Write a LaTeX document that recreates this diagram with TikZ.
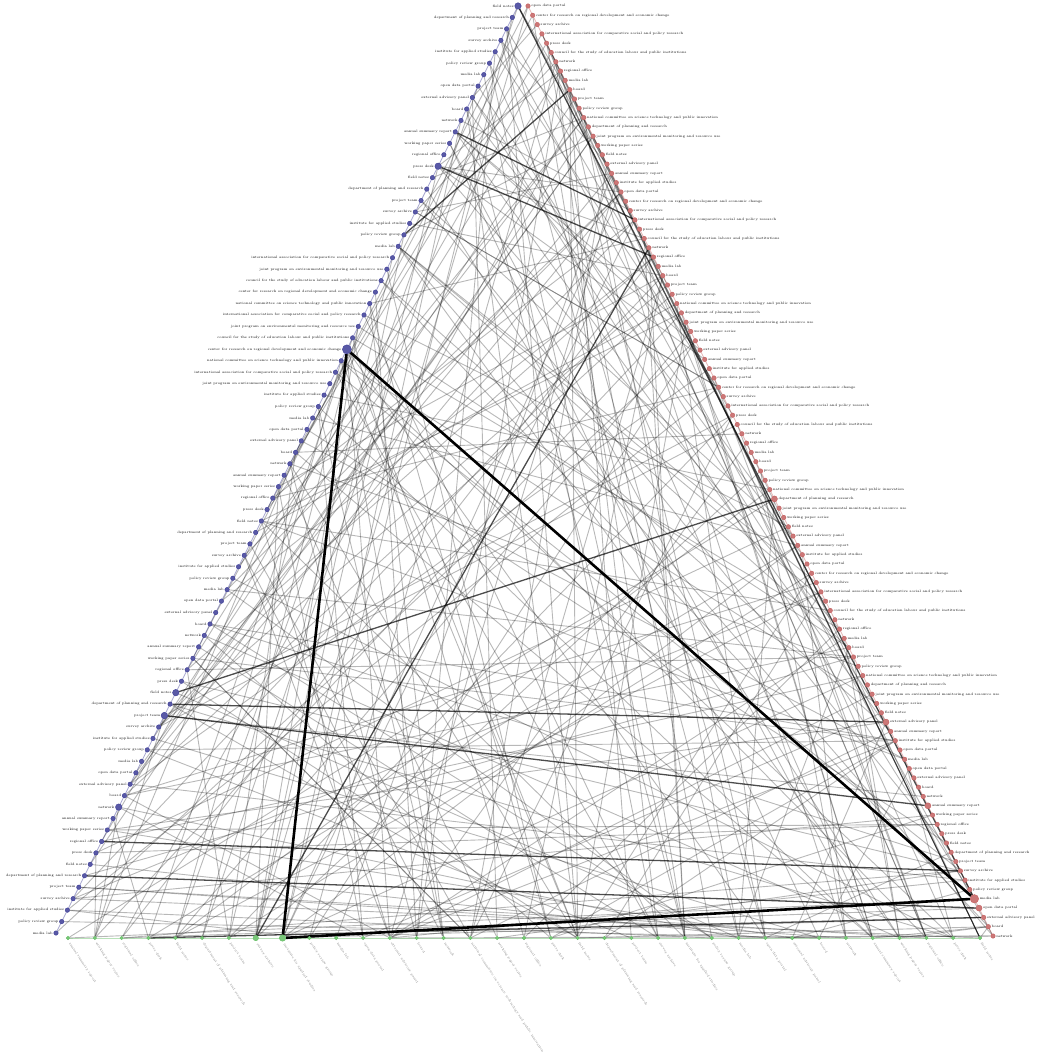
\documentclass[tikz,border=0pt]{standalone}
\usetikzlibrary{backgrounds}

\newcommand*{\nblue}{81}
\newcommand*{\nred}{100}
\newcommand*{\ngreen}{34}

\newcommand*{\poolname}[1]{\ifcase#1 field notes\or regional office\or annual summary report\or board\or open data portal\or policy review group\or survey archive\or department of planning and research\or press desk\or working paper series\or network\or external advisory panel\or media lab\or institute for applied studies\or project team\or center for research on regional development and economic change\or national committee on science technology and public innovation\or international association for comparative social and policy research\or joint program on environmental monitoring and resource use\or council for the study of education labour and public institutions\fi}

\definecolor{bluedot}{RGB}{60,60,150}
\definecolor{reddot}{RGB}{195,95,95}
\definecolor{greendot}{RGB}{100,190,100}

\begin{document}
\begin{tikzpicture}
[
	x=1pt, y=-1pt,
	bluept/.style={circle,draw=bluedot,fill=bluedot!85,inner sep=0pt},
	redpt/.style={circle,draw=reddot,fill=reddot!85,inner sep=0pt},
	greenpt/.style={circle,draw=greendot,fill=greendot!85,inner sep=0pt},
	lbl/.style={font=\fontsize{3.4}{3.8}\selectfont,inner sep=0.7pt,text=black},
	axisline/.style={line width=0.8pt,opacity=0.45},
	edge/.style={black,opacity=0.28,line width=0.9pt},
	darkedge/.style={black,opacity=0.7,line width=1.3pt},
	hubedge/.style={black,line width=2.6pt}
]

	\useasboundingbox (0,0) rectangle (1052,1056);

	% left axis
	\foreach \i in {0,...,\nblue} {
		\pgfmathtruncatemacro{\idx}{(\i>21 && \i<34) ? 15+mod(\i,5) : mod(\i*7,15)}
		\pgfmathsetmacro{\sz}{(\i==30) ? 9 : ((\i==0 || \i==14 || \i==60 || \i==62 || \i==70) ? 6.5 : 4.5)}
		\node[bluept,minimum size=\sz pt] (b\i) at ({518-462*(\i/\nblue)},{6+927*(\i/\nblue)}) {};
		\node[lbl,anchor=east] (bl\i) at (b\i.west) {\poolname{\idx}};
	}

	% right axis
	\foreach \j in {0,...,\nred} {
		\pgfmathtruncatemacro{\idx}{(\j>80) ? mod(\j*7,15) : mod(\j*11+4,20)}
		\pgfmathsetmacro{\sz}{(\j==96) ? 8.5 : ((\j==53 || \j==77 || \j==86 || \j==97) ? 6 : 4.5)}
		\node[redpt,minimum size=\sz pt] (r\j) at ({528+465*(\j/\nred)},{6+930*(\j/\nred)}) {};
		\node[lbl,anchor=west] (rl\j) at (r\j.east) {\poolname{\idx}};
	}

	% bottom axis
	\foreach \k in {0,...,\ngreen} {
		\pgfmathtruncatemacro{\idx}{(\k==15) ? 16 : mod(\k*7+2,15)}
		\pgfmathsetmacro{\sz}{(\k==8) ? 6.5 : ((\k==7) ? 5.5 : 3.5)}
		\node[greenpt,minimum size=\sz pt] (g\k) at ({68+912*(\k/\ngreen)},938) {};
		\node[lbl,text=black!50,rotate=-57,anchor=west] (gl\k) at ([shift={(1,2)}]g\k.south) {\poolname{\idx}};
	}

	\begin{scope}[on background layer]
		\draw[axisline,bluedot] (b0) -- (b\nblue);
		\draw[axisline,reddot] (r0) -- (r\nred);
		\draw[axisline,greendot] (g0) -- (g\ngreen);

		% links
		\pgfmathsetseed{2718}
		\foreach \e in {1,...,100} {
			\pgfmathrandominteger{\p}{0}{\nblue}
			\pgfmathrandominteger{\q}{0}{\nred}
			\draw[edge] (b\p) -- (r\q);
		}
		\foreach \e in {1,...,85} {
			\pgfmathrandominteger{\p}{0}{\nblue}
			\pgfmathrandominteger{\q}{0}{\ngreen}
			\draw[edge] (b\p) -- (g\q);
		}
		\foreach \e in {1,...,85} {
			\pgfmathrandominteger{\p}{0}{\nred}
			\pgfmathrandominteger{\q}{0}{\ngreen}
			\draw[edge] (r\p) -- (g\q);
		}

		% strong links
		\foreach \p/\q in {b0/r96,b11/r23,b14/r27,b20/r9,b60/r53,b62/r86,b61/r77,b76/r97,b73/r93,g7/r26,g3/r98}
			\draw[darkedge] (\p) -- (\q);

		\draw[hubedge] (b30) -- (r96) -- (g8) -- (b30);
	\end{scope}

\end{tikzpicture}
\end{document}
